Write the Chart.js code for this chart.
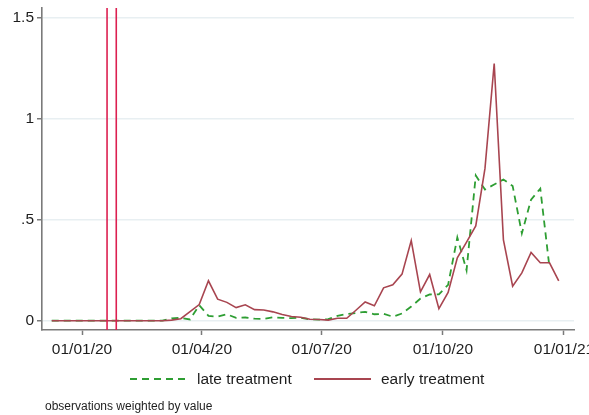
<!DOCTYPE html>
<html>
<head>
<meta charset="utf-8">
<script src="https://cdn.jsdelivr.net/npm/chart.js@4/dist/chart.umd.min.js"></script>
<style>
  html, body { margin: 0; padding: 0; background: #ffffff; }
  #wrap { width: 589px; height: 415px; position: relative; }
</style>
</head>
<body>
<div id="wrap"><canvas id="c" width="589" height="415"></canvas></div>
<script>
// Weekly observation dates (week starts)
const weeks = [
  '2019-12-09','2019-12-16','2019-12-23','2019-12-30',
  '2020-01-06','2020-01-13','2020-01-20','2020-01-27',
  '2020-02-03','2020-02-10','2020-02-17','2020-02-24',
  '2020-03-02','2020-03-09','2020-03-16','2020-03-23','2020-03-30',
  '2020-04-06','2020-04-13','2020-04-20','2020-04-27',
  '2020-05-04','2020-05-11','2020-05-18','2020-05-25',
  '2020-06-01','2020-06-08','2020-06-15','2020-06-22','2020-06-29',
  '2020-07-06','2020-07-13','2020-07-20','2020-07-27',
  '2020-08-03','2020-08-10','2020-08-17','2020-08-24','2020-08-31',
  '2020-09-07','2020-09-14','2020-09-21','2020-09-28',
  '2020-10-05','2020-10-12','2020-10-19','2020-10-26',
  '2020-11-02','2020-11-09','2020-11-16','2020-11-23','2020-11-30',
  '2020-12-07','2020-12-14','2020-12-21','2020-12-28'
];

// late treatment group
const lateTreatment = [
  0, 0, 0, 0, 0, 0, 0, 0, 0, 0, 0, 0, 0,
  0.012, 0.014, 0.006, 0.077, 0.024, 0.020, 0.032, 0.014, 0.016, 0.010,
  0.009, 0.017, 0.014, 0.013, 0.015, 0.007, 0.005, 0.008, 0.024, 0.033,
  0.038, 0.044, 0.032, 0.034, 0.020, 0.036, 0.070, 0.110, 0.130, 0.131,
  0.178, 0.413, 0.250, 0.720, 0.650, 0.675, 0.700, 0.668, 0.433, 0.600,
  0.655, 0.263, null
];

// early treatment group
const earlyTreatment = [
  0, 0, 0, 0, 0, 0, 0, 0, 0, 0, 0, 0, 0,
  0.003, 0.010, 0.045, 0.080, 0.198, 0.107, 0.091, 0.065, 0.079, 0.055,
  0.053, 0.044, 0.031, 0.021, 0.017, 0.007, 0.006, 0.003, 0.012, 0.012,
  0.052, 0.093, 0.074, 0.163, 0.178, 0.231, 0.397, 0.143, 0.229, 0.060,
  0.140, 0.312, 0.390, 0.470, 0.755, 1.275, 0.400, 0.171, 0.237, 0.338,
  0.287, 0.287, 0.197
];

// treatment start markers
const markerDates = ['2020-01-20', '2020-01-27'];

// axis ticks
const xTickDates = ['2020-01-01', '2020-04-01', '2020-07-01', '2020-10-01', '2021-01-01'];
const xTickLabels = ['01/01/20', '01/04/20', '01/07/20', '01/10/20', '01/01/21'];
const yTickValues = [0, 0.5, 1, 1.5];
const yTickLabels = ['0', '.5', '1', '1.5'];

const ORIGIN = Date.UTC(2020, 0, 1);
function dayOf(s) {
  const p = s.split('-').map(Number);
  return (Date.UTC(p[0], p[1] - 1, p[2]) - ORIGIN) / 86400000;
}

const X_MIN = -30.4, X_MAX = 373.6;
const Y_MIN = -0.046, Y_MAX = 1.55;

const GREEN = '#2e9e33';
const MAROON = '#a84550';
const CRIMSON = '#dc1f50';
const AXIS = '#7a7a7a';
const TEXT = '#1e1e1e';
const FONT = '"Liberation Sans", Arial, Helvetica, sans-serif';

function series(values) {
  return weeks.map((w, i) => ({ x: dayOf(w), y: values[i] }));
}

const markerSets = markerDates.map(d => ({
  label: 'marker ' + d,
  data: [{ x: dayOf(d), y: Y_MIN }, { x: dayOf(d), y: Y_MAX }],
  borderColor: CRIMSON,
  borderWidth: 1.6,
  pointRadius: 0,
  order: 0
}));

// legend and note under the plot
const notes = {
  id: 'notes',
  afterDraw(chart) {
    const ctx = chart.ctx;
    ctx.save();
    ctx.lineWidth = 2;
    ctx.strokeStyle = GREEN;
    ctx.setLineDash([7, 5]);
    ctx.beginPath(); ctx.moveTo(130, 379); ctx.lineTo(186, 379); ctx.stroke();
    ctx.setLineDash([]);
    ctx.strokeStyle = MAROON;
    ctx.lineWidth = 1.8;
    ctx.beginPath(); ctx.moveTo(314, 379); ctx.lineTo(371, 379); ctx.stroke();
    ctx.fillStyle = TEXT;
    ctx.textBaseline = 'middle';
    ctx.textAlign = 'left';
    ctx.font = '15.5px ' + FONT;
    ctx.fillText('late treatment', 197, 379.5);
    ctx.fillText('early treatment', 381, 379.5);
    ctx.font = '12px ' + FONT;
    ctx.fillText('observations weighted by value', 45, 406.5);
    ctx.restore();
  }
};

new Chart(document.getElementById('c'), {
  type: 'line',
  data: {
    datasets: [
      ...markerSets,
      {
        label: 'early treatment',
        data: series(earlyTreatment),
        borderColor: MAROON,
        borderWidth: 1.6,
        pointRadius: 0,
        tension: 0,
        spanGaps: false,
        order: 1
      },
      {
        label: 'late treatment',
        data: series(lateTreatment),
        borderColor: GREEN,
        borderWidth: 1.8,
        borderDash: [7, 5],
        pointRadius: 0,
        tension: 0,
        spanGaps: false,
        order: 2
      }
    ]
  },
  options: {
    responsive: false,
    animation: false,
    devicePixelRatio: 1,
    layout: { padding: { top: 8, right: 15, left: 0, bottom: 0 } },
    plugins: { legend: { display: false }, tooltip: { enabled: false } },
    scales: {
      x: {
        type: 'linear',
        min: X_MIN,
        max: X_MAX,
        afterBuildTicks(scale) {
          scale.ticks = xTickDates.map(d => ({ value: dayOf(d) }));
        },
        afterFit(scale) {
          scale.height = 85;
          scale.paddingLeft = 0;
          scale.paddingRight = 0;
        },
        ticks: {
          autoSkip: false,
          maxRotation: 0,
          minRotation: 0,
          padding: 5,
          color: TEXT,
          font: { family: FONT, size: 15.5 },
          callback(value, index) { return xTickLabels[index]; }
        },
        grid: {
          display: true,
          drawOnChartArea: false,
          drawTicks: true,
          tickLength: 5,
          tickColor: AXIS,
          tickWidth: 1.5
        },
        border: { display: true, color: AXIS, width: 1.6 }
      },
      y: {
        type: 'linear',
        min: Y_MIN,
        max: Y_MAX,
        afterBuildTicks(scale) {
          scale.ticks = yTickValues.map(v => ({ value: v }));
        },
        afterFit(scale) {
          scale.width = 42;
          scale.paddingTop = 0;
          scale.paddingBottom = 0;
        },
        ticks: {
          autoSkip: false,
          padding: 3,
          color: TEXT,
          font: { family: FONT, size: 15.5 },
          callback(value, index) { return yTickLabels[index]; }
        },
        grid: {
          color: '#e8eff2',
          lineWidth: 1.5,
          drawTicks: true,
          tickLength: 5,
          tickColor: AXIS,
          tickWidth: 1.5
        },
        border: { display: true, color: AXIS, width: 1.6 }
      }
    }
  },
  plugins: [notes]
});
</script>
</body>
</html>
